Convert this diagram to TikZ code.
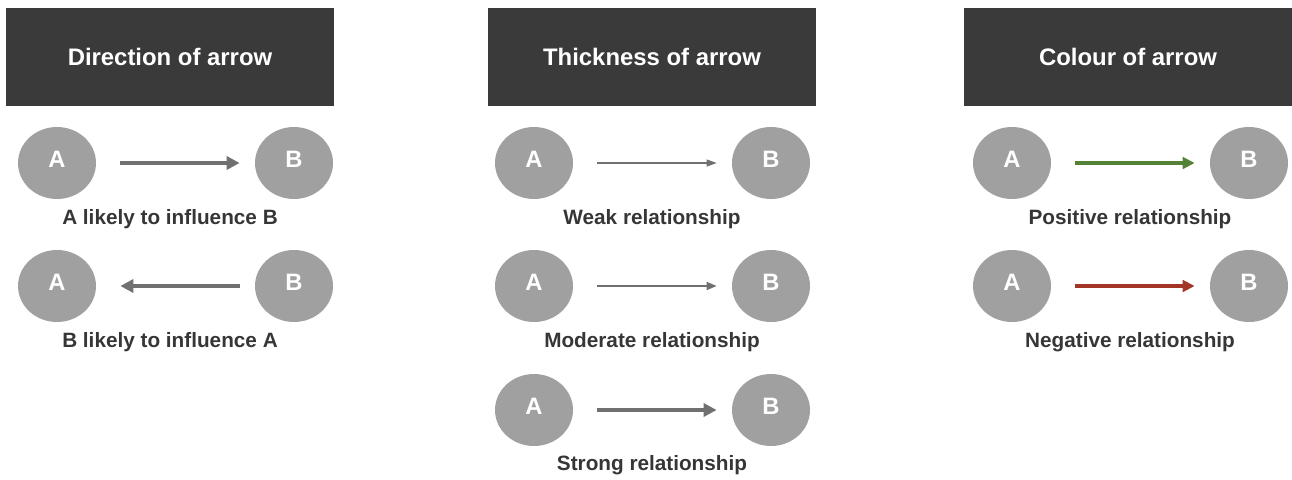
\documentclass[tikz,border=0pt]{standalone}
\usepackage{fontspec}
\setmainfont{Liberation Sans}
\usetikzlibrary{arrows.meta,positioning,shapes.geometric}
\definecolor{hdgray}{HTML}{3A3A3A}
\definecolor{ndgray}{HTML}{A0A0A0}
\definecolor{argray}{HTML}{707070}
\definecolor{txgray}{HTML}{363636}
\definecolor{posgreen}{HTML}{538135}
\definecolor{negred}{HTML}{A23526}

\begin{document}
\begin{tikzpicture}[font=\bfseries,
 hd/.style={fill=hdgray,text=white,minimum width=6.56cm,minimum height=1.96cm,font=\fontsize{13.6}{16}\bfseries},
 nd/.style={ellipse,fill=ndgray,text=white,minimum width=1.56cm,minimum height=1.44cm,inner sep=0pt,text depth=0.15cm,font=\fontsize{13.5}{16}\bfseries},
 lb/.style={text=txgray,font=\fontsize{11.8}{14}\bfseries},
 ar/.style={draw=argray,line width=2.2pt,shorten <=0.48cm,shorten >=0.3cm,-{Triangle[length=0.26cm,width=0.26cm]}},
 thin/.style={draw=argray,line width=0.6pt,shorten <=0.48cm,shorten >=0.3cm,-{Triangle[length=0.2cm,width=0.14cm]}},
 mid/.style={draw=argray,line width=0.95pt,shorten <=0.48cm,shorten >=0.3cm,-{Triangle[length=0.2cm,width=0.16cm]}},
 col/.style={line width=1.8pt,shorten <=0.48cm,shorten >=0.3cm,-{Triangle[length=0.24cm,width=0.23cm]}}]
\useasboundingbox (0,0) rectangle (25.84,-9.58);
% headers
\node[hd] (h1) at (3.40,-1.14) {Direction of arrow};
\node[hd] (h2) at (13.04,-1.14) {Thickness of arrow};
\node[hd] (h3) at (22.56,-1.14) {Colour of arrow};
% direction
\node[nd] (a1) at (1.14,-3.26) {A};
\node[nd] (b1) at (5.88,-3.26) {B};
\node[nd] (a2) at (1.14,-5.72) {A};
\node[nd] (b2) at (5.88,-5.72) {B};
\draw[ar] (a1) -- (b1);
\draw[ar,shorten <=0.3cm,shorten >=0.48cm] (b2) -- (a2);
\node[lb] at (3.40,-4.38) {A likely to influence B};
\node[lb] at (3.40,-6.84) {B likely to influence A};
% thickness
\foreach \i/\y in {3/-3.26,4/-5.72,5/-8.20} {
  \node[nd] (a\i) at (10.68,\y) {A};
  \node[nd] (b\i) at (15.42,\y) {B};
}
\draw[thin] (a3) -- (b3);
\draw[mid] (a4) -- (b4);
\draw[ar] (a5) -- (b5);
\node[lb] at (13.04,-4.38) {Weak relationship};
\node[lb] at (13.04,-6.84) {Moderate relationship};
\node[lb] at (13.04,-9.30) {Strong relationship};
% colour
\node[nd] (a6) at (20.24,-3.26) {A};
\node[nd] (b6) at (24.98,-3.26) {B};
\node[nd] (a7) at (20.24,-5.72) {A};
\node[nd] (b7) at (24.98,-5.72) {B};
\draw[col,posgreen] (a6) -- (b6);
\draw[col,negred] (a7) -- (b7);
\node[lb] at (22.60,-4.38) {Positive relationship};
\node[lb] at (22.60,-6.84) {Negative relationship};
\end{tikzpicture}
\end{document}
